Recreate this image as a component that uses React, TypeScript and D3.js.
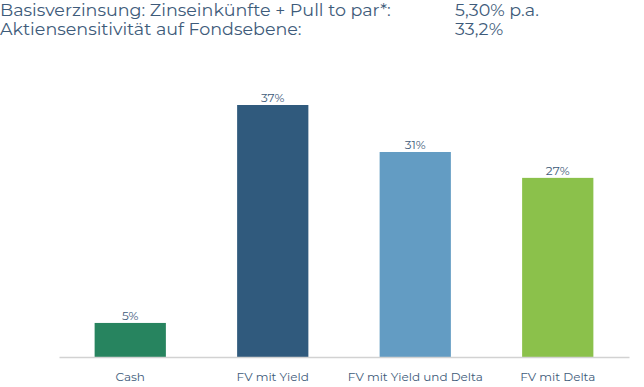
import * as d3 from 'd3';
import { useEffect, useRef } from 'react';

const categories = ['Cash', 'FV mit Yield', 'FV mit Yield und Delta', 'FV mit Delta'];
const values = [5, 37, 30.1, 26.3];
const valueLabels = ['5%', '37%', '31%', '27%'];
const colors = ['#27845f', '#305a7d', '#639cc3', '#8bc14b'];
const headerLabels = ['Basisverzinsung: Zinseinkünfte + Pull to par*:', 'Aktiensensitivität auf Fondsebene:'];
const headerValues = ['5,30% p.a.', '33,2%'];

const width = 644;
const height = 387;

const App = () => {
    const svgRef = useRef(null);

    useEffect(() => {
        const svg = d3.select(svgRef.current)
            .attr('width', width)
            .attr('height', height);

        svg.selectAll('*').remove();

        const font = 'Montserrat, "Open Sans", sans-serif';
        const textColor = '#3e5b7a';

        // header block
        headerLabels.forEach((t, i) => {
            svg.append('text')
                .attr('x', 0)
                .attr('y', 16 + i * 19)
                .attr('font-family', font)
                .attr('font-size', 17.5)
                .attr('fill', textColor)
                .text(t);
            svg.append('text')
                .attr('x', 455)
                .attr('y', 16 + i * 19)
                .attr('font-family', font)
                .attr('font-size', 17.5)
                .attr('fill', textColor)
                .text(headerValues[i]);
        });

        const x = d3.scaleBand()
            .domain(categories)
            .range([59, 629])
            .paddingInner(0.5)
            .paddingOuter(0.25);

        const y = d3.scaleLinear()
            .domain([0, 37])
            .range([357, 105]);

        svg.selectAll('rect.bar')
            .data(values)
            .enter()
            .append('rect')
            .attr('class', 'bar')
            .attr('x', (d, i) => x(categories[i]))
            .attr('y', d => y(d))
            .attr('width', x.bandwidth())
            .attr('height', d => y(0) - y(d))
            .attr('fill', (d, i) => colors[i]);

        svg.selectAll('text.value')
            .data(values)
            .enter()
            .append('text')
            .attr('class', 'value')
            .attr('x', (d, i) => x(categories[i]) + x.bandwidth() / 2)
            .attr('y', d => y(d) - 3)
            .attr('text-anchor', 'middle')
            .attr('font-family', font)
            .attr('font-size', 12)
            .attr('fill', textColor)
            .text((d, i) => valueLabels[i]);

        // x axis
        const axis = svg.append('g')
            .attr('transform', 'translate(0,357)')
            .call(d3.axisBottom(x).tickSize(0).tickPadding(15));
        axis.select('.domain')
            .attr('stroke', '#d2d2d2')
            .attr('stroke-width', 1.5);
        axis.selectAll('text')
            .attr('font-family', font)
            .attr('font-size', 12)
            .attr('fill', textColor);
    }, []);

    return (
        <div style={{ position: 'absolute', left: 0, top: 0 }}>
            <svg ref={svgRef} style={{ display: 'block' }} />
        </div>
    );
};

export default App;
